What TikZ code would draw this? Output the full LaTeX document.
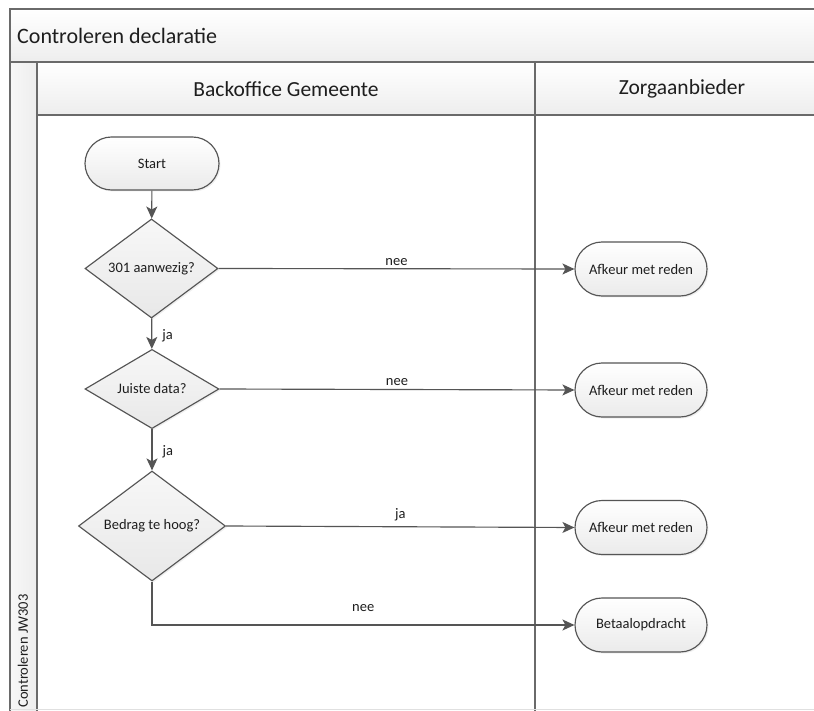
\documentclass[tikz,border=0pt]{standalone}
\usepackage{fontspec}
\setmainfont{Carlito}
\usetikzlibrary{shapes.geometric,shapes.misc,arrows.meta,shadows}
\definecolor{edge}{HTML}{555555}
\definecolor{frame}{HTML}{6A6A6A}
\definecolor{txt}{HTML}{1E1E1E}
\tikzset{
  flowarrow/.style={draw=edge,line width=1.15pt,-{Stealth[length=12pt,width=11pt,inset=3pt]}},
  terminal/.style={rounded rectangle,draw=edge,line width=1.15pt,top color=white,bottom color=black!8,
     minimum width=132pt,minimum height=54pt,inner sep=0pt,font=\fontsize{14.5}{17}\selectfont,text=txt,
     drop shadow={opacity=0.12,shadow xshift=1.5pt,shadow yshift=-1.5pt}},
  decision/.style={diamond,draw=edge,line width=1.15pt,top color=black!3,bottom color=black!9,
     inner sep=0pt,font=\fontsize{14.5}{17}\selectfont,text=txt,
     drop shadow={opacity=0.12,shadow xshift=1.5pt,shadow yshift=-1.5pt}},
  lbl/.style={font=\fontsize{14.5}{17}\selectfont,text=txt,inner sep=2pt},
  headtxt/.style={font=\fontsize{21.5}{25}\selectfont,text=txt},
  framebox/.style={draw=frame,line width=1.15pt}
}
\begin{document}
\begin{tikzpicture}[x=1pt,y=-1pt]
\useasboundingbox (0,0) rectangle (814,711);
\fill[white] (0,0) rectangle (814,711);
% backgrounds
\shade[top color=white,bottom color=black!7] (10,9) rectangle (814,62);
\shade[top color=white,bottom color=black!7] (37,62) rectangle (814,115);
\shade[left color=black!3,right color=black!7] (10,62) rectangle (37,711);
% frame lines
\draw[framebox] (814,9) -- (10,9) -- (10,711);
\draw[framebox] (10,62) -- (814,62);
\draw[framebox] (37,62) -- (37,711);
\draw[framebox] (37,115) -- (814,115);
\draw[framebox] (535,62) -- (535,711);
\draw[draw=black!12,line width=0.8pt] (10,709) -- (814,709);
% texts
\node[anchor=west,font=\fontsize{22}{26}\selectfont,text=txt,inner sep=0pt] (title) at (17,35.5) {Controleren declaratie};
\node[headtxt] (lane1) at (286,89) {Backoffice Gemeente};
\node[headtxt] (lane2) at (682,89) {Zorgaanbieder};
\node[font=\fontsize{14.5}{17}\selectfont,text=txt,rotate=90,inner sep=0pt] (pool) at (23,651) {Controleren JW303};
% nodes
\node[terminal,minimum width=134pt,minimum height=53pt] (start) at (152,163.5) {Start};
\node[decision,minimum width=133pt,minimum height=77pt] (d1) at (151.5,268.5) {301 aanwezig?};
\node[decision,minimum width=134pt,minimum height=78pt] (d2) at (152,389) {Juiste data?};
\node[decision,minimum width=147pt,minimum height=110pt] (d3) at (152,526) {Bedrag te hoog?};
\node[terminal] (a1) at (641,269) {Afkeur met reden};
\node[terminal] (a2) at (641,390) {Afkeur met reden};
\node[terminal] (a3) at (641,527.5) {Afkeur met reden};
\node[terminal] (b) at (641,625) {Betaalopdracht};
% connectors
\draw[flowarrow] (start) -- (d1);
\draw[flowarrow] (d1) -- node[lbl,right,xshift=8pt,yshift=-2pt] {ja} (d2);
\draw[flowarrow] (d2) -- node[lbl,right,xshift=8pt,yshift=-2pt] {ja} (d3);
\draw[flowarrow] (d1.east) -- node[lbl,above,yshift=1pt] {nee} (a1.west);
\draw[flowarrow] (d2.east) -- node[lbl,above,yshift=1pt] {nee} (a2.west);
\draw[flowarrow] (d3.east) -- node[lbl,above,yshift=3pt] {ja} (a3.west);
\draw[flowarrow] (d3.south) |- node[lbl,above,pos=0.75,yshift=11pt] {nee} (b.west);
\end{tikzpicture}
\end{document}
